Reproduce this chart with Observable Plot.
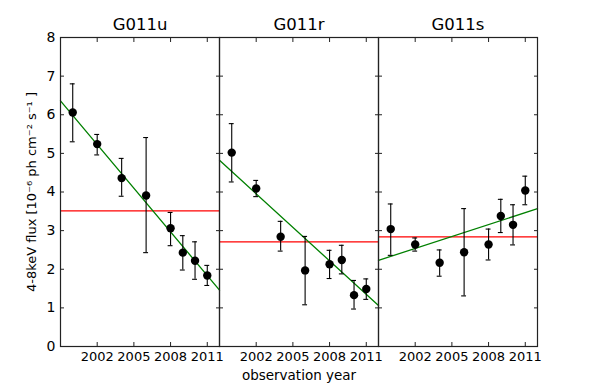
<!DOCTYPE html>
<html><head><meta charset="utf-8">
<script src="https://cdn.jsdelivr.net/npm/d3@7"></script>
<script src="https://cdn.jsdelivr.net/npm/@observablehq/plot@0.6"></script>
<style>body{margin:0;background:#fff} #chart svg{font-family:"DejaVu Sans",sans-serif}</style>
</head><body><div id="chart"></div>
<script>
const panels = ["G011u", "G011r", "G011s"];
const years = [2000, 2002, 2004, 2006, 2008, 2009, 2010, 2011];
const xTicks = [2002, 2005, 2008, 2011];
const yTicks = [0, 1, 2, 3, 4, 5, 6, 7, 8];

const fluxU = [6.06, 5.24, 4.36, 3.91, 3.06, 2.43, 2.22, 1.84];
const loU   = [5.30, 4.96, 3.89, 2.43, 2.61, 1.98, 1.74, 1.58];
const hiU   = [6.80, 5.49, 4.87, 5.41, 3.47, 2.87, 2.71, 2.10];

const fluxR = [5.02, 4.09, 2.84, 1.97, 2.13, 2.24, 1.33, 1.49];
const loR   = [4.26, 3.88, 2.47, 1.08, 1.76, 1.88, 0.97, 1.22];
const hiR   = [5.77, 4.30, 3.24, 2.85, 2.49, 2.62, 1.71, 1.75];

const fluxS = [3.04, 2.64, 2.17, 2.44, 2.64, 3.38, 3.15, 4.04];
const loS   = [2.36, 2.47, 1.82, 1.31, 2.24, 2.95, 2.63, 3.67];
const hiS   = [3.69, 2.81, 2.50, 3.57, 3.04, 3.81, 3.67, 4.41];

const meanFlux = [3.51, 2.71, 2.84];
const fitYears = [1999, 2012];
const fitStart = [6.36, 4.82, 2.23];
const fitEnd   = [1.46, 1.06, 3.57];

const fluxes = [fluxU, fluxR, fluxS], los = [loU, loR, loS], his = [hiU, hiR, hiS];
const points = panels.flatMap((p, i) => years.map((yr, j) => ({panel: p, year: yr, flux: fluxes[i][j], lo: los[i][j], hi: his[i][j]})));
const fits = panels.flatMap((p, i) => [{panel: p, year: fitYears[0], flux: fitStart[i]}, {panel: p, year: fitYears[1], flux: fitEnd[i]}]);
const means = panels.map((p, i) => ({panel: p, flux: meanFlux[i]}));
const capHalf = 0.2;

const chart = Plot.plot({
  width: 598, height: 385,
  marginTop: 37, marginBottom: 39, marginLeft: 59, marginRight: 60,
  style: {fontFamily: "DejaVu Sans", color: "#000", background: "#fff"},
  fx: {domain: panels, padding: 0, label: null},
  x: {domain: [1999, 2012], label: null},
  y: {domain: [0, 8], label: null},
  marks: [
    Plot.ruleY(means, {fx: "panel", y: "flux", stroke: "#ff0000", strokeWidth: 1.3}),
    Plot.line(fits, {fx: "panel", x: "year", y: "flux", stroke: "#008000", strokeWidth: 1.3}),
    Plot.ruleX(points, {fx: "panel", x: "year", y1: "lo", y2: "hi", stroke: "#000", strokeWidth: 1.1}),
    Plot.ruleY(points, {fx: "panel", y: "lo", x1: d => d.year - capHalf, x2: d => d.year + capHalf, stroke: "#000", strokeWidth: 1.1}),
    Plot.ruleY(points, {fx: "panel", y: "hi", x1: d => d.year - capHalf, x2: d => d.year + capHalf, stroke: "#000", strokeWidth: 1.1}),
    Plot.dot(points, {fx: "panel", x: "year", y: "flux", r: 4.2, fill: "#000", stroke: "none"}),
    Plot.frame({stroke: "#222", strokeWidth: 1.2}),
    Plot.axisFx({anchor: "top", tickSize: 0, tickPadding: 8, label: null}),
    Plot.axisX({anchor: "bottom", ticks: xTicks, tickSize: -4, text: null, label: null, facetAnchor: null, stroke: "#222"}),
    Plot.axisX({anchor: "top", ticks: xTicks, tickSize: -4, text: null, label: null, facetAnchor: null, stroke: "#222"}),
    Plot.axisX({anchor: "bottom", ticks: xTicks, tickSize: 0, tickPadding: 5, tickFormat: d => String(d),
      label: "observation year", labelAnchor: "center", labelOffset: 33, labelArrow: "none"}),
    Plot.axisY({anchor: "left", ticks: yTicks, tickSize: -4, text: null, label: null, facetAnchor: null, stroke: "#222"}),
    Plot.axisY({anchor: "right", ticks: yTicks, tickSize: -4, text: null, label: null, facetAnchor: null, stroke: "#222"}),
    Plot.axisY({anchor: "left", ticks: yTicks, tickSize: 0, tickPadding: 5,
      label: "4-8keV flux [10⁻⁶ ph cm⁻² s⁻¹ ]", labelAnchor: "center", labelOffset: 34, labelArrow: "none"})
  ]
});
const s = d3.select(chart);
s.selectAll('g[aria-label="fx-axis tick label"]').attr("font-size", 16.5).selectAll("text").attr("font-size", 16.5);
s.selectAll('g[aria-label="x-axis tick label"]').attr("font-size", 13).selectAll("text").attr("font-size", 13);
s.selectAll('g[aria-label="y-axis tick label"]').attr("font-size", 14).selectAll("text").attr("font-size", 14);
s.selectAll('g[aria-label="x-axis label"]').attr("font-size", 13.5).selectAll("text").attr("font-size", 13.5);
s.selectAll('g[aria-label="y-axis label"]').attr("font-size", 13).selectAll("text").attr("font-size", 13);
document.getElementById("chart").append(chart);
</script>
</body></html>
